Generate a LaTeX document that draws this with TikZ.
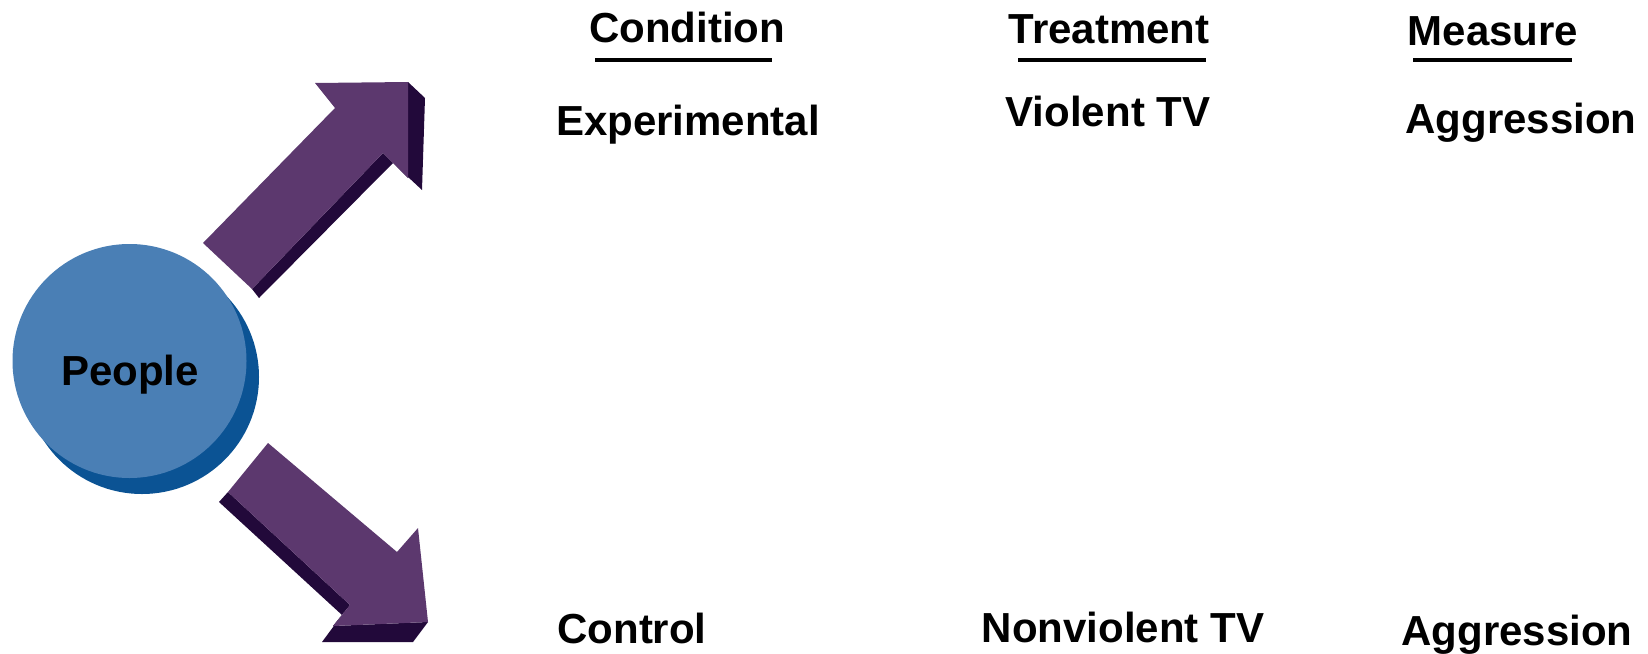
\documentclass[tikz,border=0pt]{standalone}
\usepackage{fontspec}
\setmainfont{Liberation Sans}
\definecolor{disc}{HTML}{4A7FB5}
\definecolor{discshade}{HTML}{0B5394}
\definecolor{arrowface}{HTML}{5C386E}
\definecolor{arrowside}{HTML}{22093A}
\begin{document}
\begin{tikzpicture}[x=1pt,y=-1pt,
  lbl/.style={inner sep=0pt,anchor=base,font=\fontsize{42}{48}\selectfont\bfseries},
  uline/.style={line width=4pt},
  face/.style={fill=arrowface},
  side/.style={fill=arrowside}]
\useasboundingbox (0,0) rectangle (1648,653);
% People disc
\fill[discshade] (142,377) circle[radius=117];
\fill[disc] (129.5,361) circle[radius=117];
\node[lbl] (people) at (130,385) {People};
% upper arrow
\fill[side] (252,289) -- (259,298) -- (393,163) -- (422,190) -- (425,98) -- (408,82) -- (408,178) -- (383,153) -- cycle;
\fill[face] (203,243) -- (335,108) -- (315,83) -- (408,82) -- (408,178) -- (383,153) -- (252,289) -- cycle;
% lower arrow
\fill[side] (228,492) -- (219,502) -- (342,615) -- (322,642) -- (413,642) -- (428,622) -- (333,626) -- (350,605) -- cycle;
\fill[face] (268,443) -- (397,552) -- (418,528) -- (428,622) -- (333,626) -- (350,605) -- (228,492) -- cycle;
% headings
\node[lbl] (cond) at (687,42) {Condition};
\node[lbl] (treat) at (1109,43) {Treatment};
\node[lbl] (meas) at (1493,45) {Measure};
\draw[uline] (595,60) -- (772,60);
\draw[uline] (1018,60) -- (1206,60);
\draw[uline] (1413,60) -- (1572,60);
% rows
\node[lbl] (exper) at (688,135) {Experimental};
\node[lbl] (viol) at (1108,126) {Violent TV};
\node[lbl] (aggrA) at (1521,133) {Aggression};
\node[lbl] (ctrl) at (632,643) {Control};
\node[lbl] (nonviol) at (1123,642) {Nonviolent TV};
\node[lbl] (aggrB) at (1517,645) {Aggression};
\end{tikzpicture}
\end{document}
